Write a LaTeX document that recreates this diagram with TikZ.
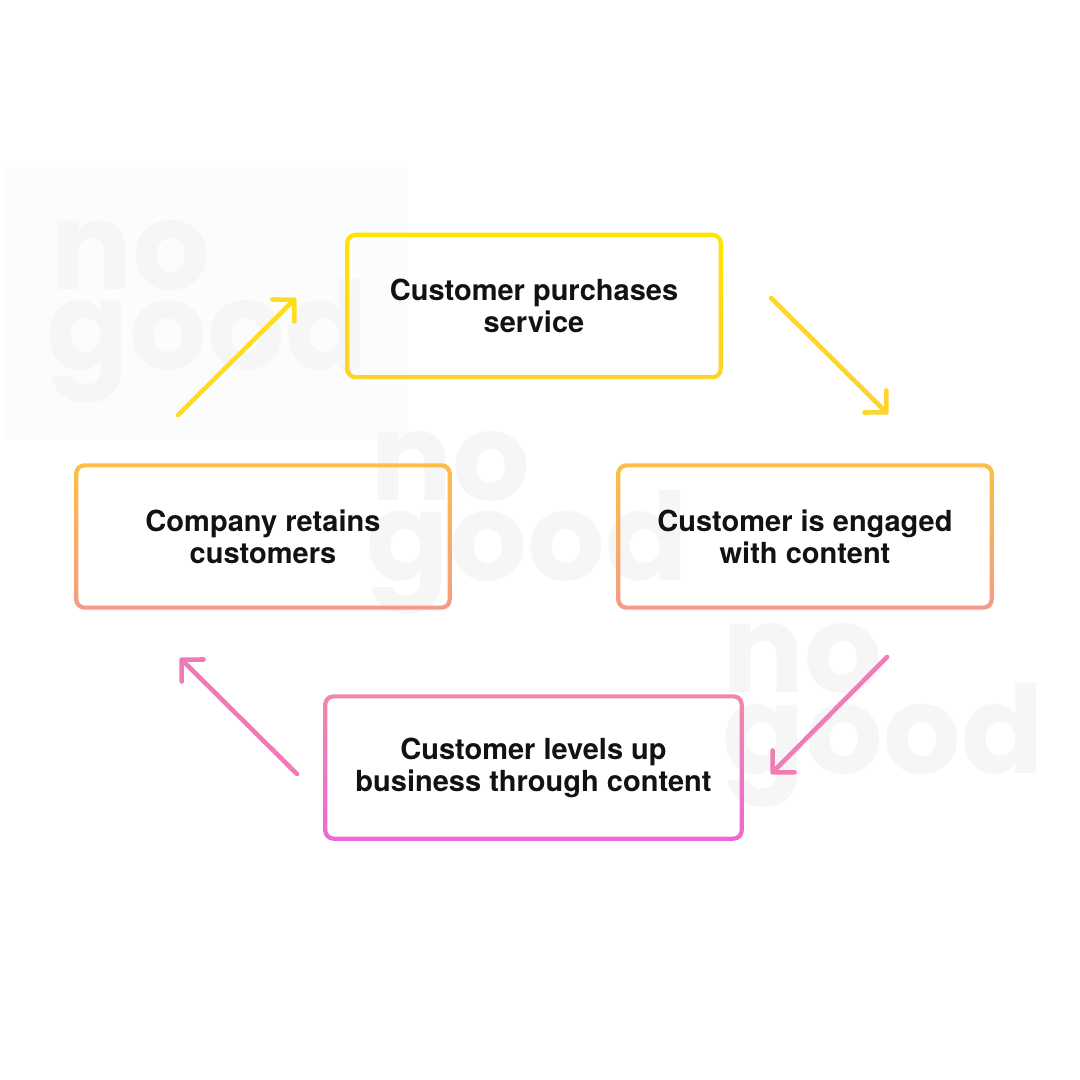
\documentclass[tikz,border=0pt]{standalone}
\usepackage{fontspec}
\setmainfont{TeX Gyre Heros}
\newfontfamily\wmfont{Poppins}
\usetikzlibrary{arrows.meta}
\definecolor{ytop}{HTML}{FFE400}
\definecolor{ybot}{HTML}{FDD22C}
\definecolor{otop}{HTML}{FBBF45}
\definecolor{obot}{HTML}{F59B88}
\definecolor{ptop}{HTML}{F288A8}
\definecolor{pbot}{HTML}{EE67D8}
\definecolor{wmcol}{HTML}{F6F6F6}
\definecolor{wmbg}{HTML}{FCFCFC}
\definecolor{ink}{HTML}{121212}
\definecolor{aone}{HTML}{FEDC20}
\definecolor{atwo}{HTML}{FDD52C}
\definecolor{athree}{HTML}{F17CB4}
\definecolor{afour}{HTML}{F07AB8}
\newcommand{\gradring}[3]{%
  \shade[top color=#2,bottom color=#3,even odd rule]
  [rounded corners=2.9pt] (#1.north west) rectangle (#1.south east)
  [rounded corners=1.8pt] ([shift={(4.2,4.2)}]#1.north west) rectangle ([shift={(-4.2,-4.2)}]#1.south east);}
\tikzset{
  stagebox/.style={minimum width=#1, minimum height=1.45cm, inner sep=0pt, align=center,
    font=\bfseries\fontsize{8.25}{9.1}\selectfont, text=ink},
  wmtext/.style={anchor=base west, inner sep=0pt, text=wmcol,
    font=\wmfont\bfseries\fontsize{34.7}{34.7}\selectfont},
  flow/.style={line width=1.3pt, line cap=round, draw=#1,
    -{Straight Barb[length=4.4pt,width=8.8pt,round]}}
}
\begin{document}
\begin{tikzpicture}[x=0.01cm,y=-0.01cm]
\useasboundingbox (0,0) rectangle (1080,1080);
\fill[white] (0,0) rectangle (1080,1080);
\fill[wmbg] (3,167) rectangle (408,440);
% watermarks
\node[wmtext] (wmAno) at (50,290) {no};
\node[wmtext] (wmAgood) at (46,370) {good};
\node[wmtext] (wmBno) at (370,501) {no};
\node[wmtext] (wmBgood) at (366,580) {good};
\node[wmtext] (wmCno) at (722,692) {no};
\node[wmtext] (wmCgood) at (722,773) {good};
% boxes
\node[stagebox=3.76cm] (buy) at (534,306) {Customer purchases\\service};
\node[stagebox=3.76cm] (retain) at (263,536.5) {Company retains\\customers};
\node[stagebox=3.76cm] (engage) at (805,536.5) {Customer is engaged\\with content};
\node[stagebox=4.19cm] (level) at (533.5,767.5) {Customer levels up\\business through content};
\gradring{buy}{ytop}{ybot}
\gradring{retain}{otop}{obot}
\gradring{engage}{otop}{obot}
\gradring{level}{ptop}{pbot}
% arrows
\coordinate (a1s) at (178,415);
\coordinate (a1e) at (296,298);
\coordinate (a2s) at (771,298);
\coordinate (a2e) at (888,414);
\coordinate (a3s) at (887,657);
\coordinate (a3e) at (771,774);
\coordinate (a4s) at (297,774);
\coordinate (a4e) at (180,658);
\draw[flow=aone] (a1s) -- (a1e);
\draw[flow=atwo] (a2s) -- (a2e);
\draw[flow=athree] (a3s) -- (a3e);
\draw[flow=afour] (a4s) -- (a4e);
\end{tikzpicture}
\end{document}
